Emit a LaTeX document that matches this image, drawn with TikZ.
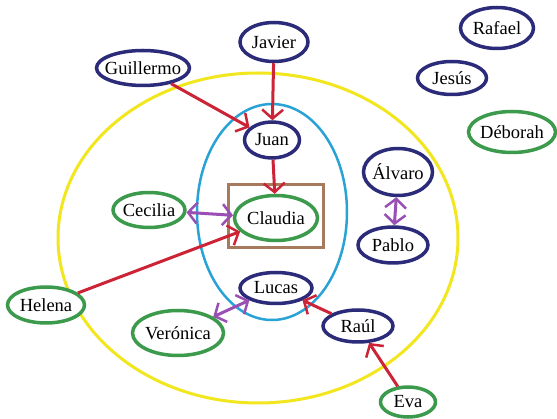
\documentclass[tikz,border=0pt]{standalone}
\usepackage{fontspec}
\setmainfont{Liberation Serif}
\usetikzlibrary{shapes.geometric,arrows.meta}
\definecolor{navy}{HTML}{2B2B7A}
\definecolor{grn}{HTML}{3C9A4C}
\definecolor{rd}{HTML}{CC2436}
\definecolor{prp}{HTML}{9A4FB5}
\definecolor{ylw}{HTML}{F2E61E}
\definecolor{cyn}{HTML}{29A3D6}
\definecolor{brn}{HTML}{A67A5C}
\tikzset{
  person/.style={ellipse, draw, line width=3.5pt, fill=white, inner sep=0pt},
  man/.style={person, draw=navy},
  woman/.style={person, draw=grn},
  nm/.style={font=\fontsize{18.5}{20}\selectfont},
  tip/.style={Straight Barb[length=9pt,width=21pt,line width=2.5pt]},
  link/.style={line width=3pt, draw=rd, -{Straight Barb[length=9pt,width=21pt,line width=2.5pt]}},
  bilink/.style={line width=3pt, draw=prp, {Straight Barb[length=9pt,width=21pt,line width=2.5pt]}-{Straight Barb[length=9pt,width=21pt,line width=2.5pt]}}
}
\begin{document}
\begin{tikzpicture}[x=1pt,y=-1pt]
\useasboundingbox[fill=white] (0,0) rectangle (557,419);
\draw[ylw, line width=3pt] (258,238) ellipse [x radius=200, y radius=165];
\draw[cyn, line width=2.5pt] (272,212) ellipse [x radius=75, y radius=108];
\draw[brn, line width=3pt] (228,185) rectangle (323,248);

\node[man, minimum width=68pt, minimum height=39pt, label={[nm]center:Javier}] (javier) at (274,42) {};
\node[man, minimum width=93pt, minimum height=35pt, label={[nm]center:Guillermo}] (guillermo) at (143,68) {};
\node[man, minimum width=55pt, minimum height=36pt, label={[nm]center:Juan}] (juan) at (272,140) {};
\node[woman, minimum width=83pt, minimum height=45pt, label={[nm]center:Claudia}] (claudia) at (276,218) {};
\node[woman, minimum width=72pt, minimum height=35pt, label={[nm]center:Cecilia}] (cecilia) at (149,210) {};
\node[woman, minimum width=77pt, minimum height=36pt, label={[nm]center:Helena}] (helena) at (46,305) {};
\node[woman, minimum width=91pt, minimum height=45pt, label={[nm]center:Verónica}] (veronica) at (178,333) {};
\node[man, minimum width=72pt, minimum height=31pt, label={[nm]center:Lucas}] (lucas) at (276,288) {};
\node[man, minimum width=70pt, minimum height=32pt, label={[nm]center:Raúl}] (raul) at (358,326) {};
\node[woman, minimum width=55pt, minimum height=30pt, label={[nm]center:Eva}] (eva) at (408,402) {};
\node[man, minimum width=73pt, minimum height=41pt, label={[nm]center:Rafael}] (rafael) at (497,28) {};
\node[man, minimum width=69pt, minimum height=33pt, label={[nm]center:Jesús}] (jesus) at (452,78) {};
\node[woman, minimum width=87pt, minimum height=41pt, label={[nm]center:Déborah}] (deborah) at (512,132) {};
\node[man, minimum width=69pt, minimum height=47pt, label={[nm]center:Álvaro}] (alvaro) at (398,172) {};
\node[man, minimum width=70pt, minimum height=36pt, label={[nm]center:Pablo}] (pablo) at (393,245) {};

\draw[link] (javier) -- (juan);
\draw[link] (guillermo) -- (juan);
\draw[link] (juan) -- (claudia);
\draw[link] (helena) -- (claudia);
\draw[bilink] (cecilia) -- (claudia);
\draw[bilink] (veronica) -- (lucas);
\draw[link] (raul) -- (lucas);
\draw[link] (eva) -- (raul);
\draw[bilink] (alvaro) -- (pablo);
\end{tikzpicture}
\end{document}
